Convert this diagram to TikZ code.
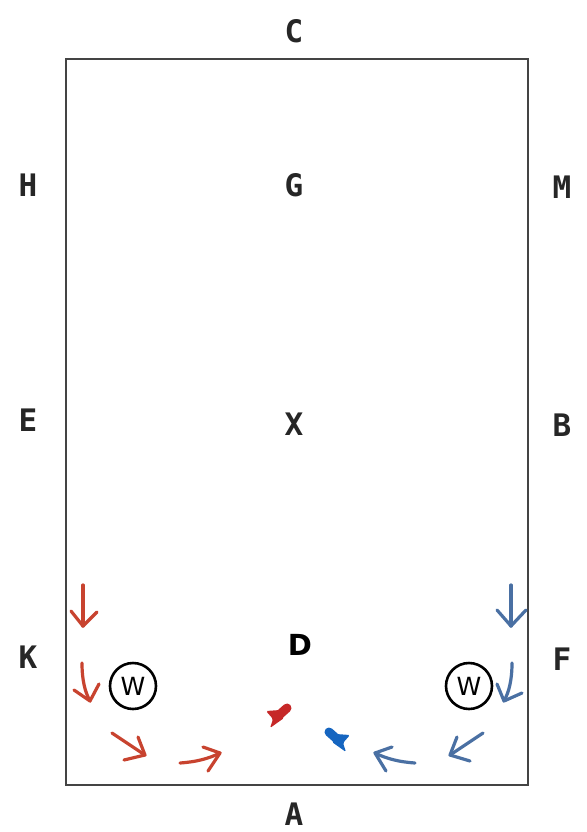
\documentclass[tikz,border=0pt]{standalone}
\usepackage{fontspec}
\setmonofont{DejaVu Sans Mono}
\newfontfamily\dvsans{DejaVu Sans}
\definecolor{redar}{HTML}{C8432F}
\definecolor{bluear}{HTML}{4A70A3}
\definecolor{redfill}{HTML}{C62828}
\definecolor{bluefill}{HTML}{1565C0}
\definecolor{frame}{HTML}{444444}
\begin{document}
\begin{tikzpicture}[x=1pt,y=-1pt,
  lbl/.style={font=\ttfamily\bfseries\fontsize{31}{31}\selectfont, text=black!85, inner sep=0pt},
  wcirc/.style={circle, draw=black, line width=2.6pt, minimum size=46pt, inner sep=0pt, font=\dvsans\fontsize{25}{25}\selectfont},
  redarr/.style={draw=redar, line width=3.2pt, line cap=round, line join=round},
  bluearr/.style={draw=bluear, line width=3.2pt, line cap=round, line join=round}]
\useasboundingbox[fill=white] (0,0) rectangle (586,832);
\draw[frame, line width=2pt] (66,59) rectangle (528,785);
% labels
\node[lbl] (C) at (294,31) {C};
\node[lbl] (H) at (28,185) {H};
\node[lbl] (G) at (294,185) {G};
\node[lbl] (M) at (562,187) {M};
\node[lbl] (E) at (28,420) {E};
\node[lbl] (X) at (294,424) {X};
\node[lbl] (B) at (562,425) {B};
\node[lbl] (K) at (28,657) {K};
\node[lbl] (F) at (562,659) {F};
\node[lbl] (A) at (294,814) {A};
\node[font=\dvsans\bfseries\fontsize{29}{29}\selectfont, inner sep=0pt] (D) at (300,645) {D};
% W circles
\node[wcirc] (W1) at (133,686) {W};
\node[wcirc] (W2) at (469,686) {W};
% red arrows
\draw[redarr] (83,585) -- (83,626);
\draw[redarr] (71,611) -- (83,626) -- (97,612);
\draw[redarr] (82,663) .. controls (82,680) and (85,692) .. (90,701);
\draw[redarr] (74,690) -- (90,701) -- (99,684);
\draw[redarr] (112,733) -- (145,755);
\draw[redarr] (138,737) -- (145,755) -- (124,760);
\draw[redarr] (180,763) .. controls (195,762) and (208,759) .. (220,753);
\draw[redarr] (203,747) -- (220,753) -- (208,771);
% blue arrows
\draw[bluearr] (511,585) -- (511,626);
\draw[bluearr] (497,610) -- (511,626) -- (526,610);
\draw[bluearr] (512,663) .. controls (512,680) and (509,692) .. (504,701);
\draw[bluearr] (497,684) -- (504,701) -- (522,693);
\draw[bluearr] (483,733) -- (450,755);
\draw[bluearr] (457,737) -- (450,755) -- (470,761);
\draw[bluearr] (415,763) .. controls (400,762) and (387,759) .. (375,753);
\draw[bluearr] (392,747) -- (375,753) -- (386,771);
% filled markers (dart shapes pointing toward D)
\draw[redfill, line width=9pt, line cap=round] (287,708) -- (278,716);
\fill[redfill, rounded corners=1.5pt] (266,711) -- (280,710) -- (284,718) -- (270,728) -- (273,719) -- cycle;
\draw[bluefill, line width=9pt, line cap=round] (329,732) -- (338,740);
\fill[bluefill, rounded corners=1.5pt] (350,735) -- (336,734) -- (332,742) -- (346,752) -- (343,743) -- cycle;
\end{tikzpicture}
\end{document}
